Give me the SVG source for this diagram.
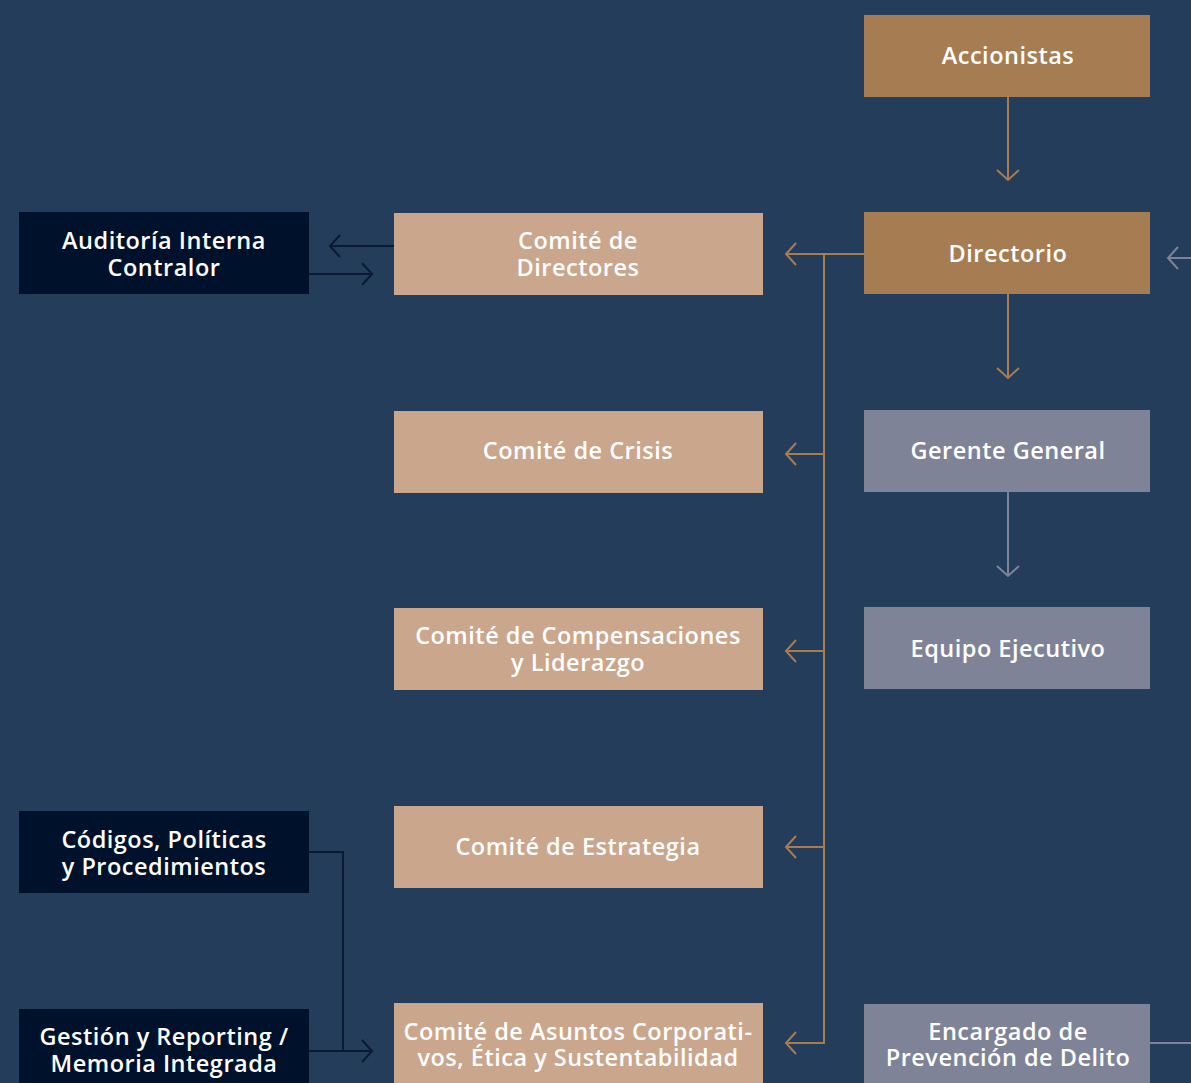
<svg xmlns="http://www.w3.org/2000/svg" width="1191" height="1083" viewBox="0 0 1191 1083">
<style>
.t{font-family:"Open Sans","Noto Sans","Liberation Sans",sans-serif;font-weight:600;font-size:23.5px;fill:#ffffff;text-anchor:middle;letter-spacing:0.5px}
.bz{fill:#a67c52}.tan{fill:#c9a68c}.gr{fill:#7f8398}.dk{fill:#00112b}
.lb{fill:none;stroke:#a67c52;stroke-width:2}
.ld{fill:none;stroke:#0b1a33;stroke-width:2}
.lg{fill:none;stroke:#7f8398;stroke-width:2}
</style>
<defs>
<marker id="ab" markerWidth="14" markerHeight="24" refX="11" refY="12" orient="auto" markerUnits="userSpaceOnUse"><path d="M1,1 L11,12 L1,23" fill="none" stroke="#a67c52" stroke-width="2"/></marker>
<marker id="ad" markerWidth="14" markerHeight="24" refX="11" refY="12" orient="auto" markerUnits="userSpaceOnUse"><path d="M1,1 L11,12 L1,23" fill="none" stroke="#0b1a33" stroke-width="2"/></marker>
<marker id="ag" markerWidth="14" markerHeight="24" refX="11" refY="12" orient="auto" markerUnits="userSpaceOnUse"><path d="M1,1 L11,12 L1,23" fill="none" stroke="#7f8398" stroke-width="2"/></marker>
</defs>
<rect width="1191" height="1083" fill="#243d5a"/>
<g id="connectors">
<path class="lb" d="M1008,97 V180" marker-end="url(#ab)"/>
<path class="lb" d="M1008,294 V378" marker-end="url(#ab)"/>
<path class="lg" d="M1008,492 V576" marker-end="url(#ag)"/>
<path class="lb" d="M864,254 H786" marker-end="url(#ab)"/>
<path class="lb" d="M824,254 V1043 H786" marker-end="url(#ab)"/>
<path class="lb" d="M824,454 H786" marker-end="url(#ab)"/>
<path class="lb" d="M824,651 H786" marker-end="url(#ab)"/>
<path class="lb" d="M824,847 H786" marker-end="url(#ab)"/>
<path class="ld" d="M394,246 H330" marker-end="url(#ad)"/>
<path class="ld" d="M309,274 H372" marker-end="url(#ad)"/>
<path class="ld" d="M309,852 H343 V1051"/>
<path class="ld" d="M309,1051 H372" marker-end="url(#ad)"/>
<path class="lg" d="M1150,1043 H1200"/>
<path class="lg" d="M1200,258 H1168" marker-end="url(#ag)"/>
</g>
<g id="accionistas"><rect class="bz" x="864" y="15" width="286" height="82"/><text class="t" x="1008" y="64">Accionistas</text></g>
<g id="directorio"><rect class="bz" x="864" y="212" width="286" height="82"/><text class="t" x="1008" y="262">Directorio</text></g>
<g id="gerente"><rect class="gr" x="864" y="410" width="286" height="82"/><text class="t" x="1008" y="459">Gerente General</text></g>
<g id="equipo"><rect class="gr" x="864" y="607" width="286" height="82"/><text class="t" x="1008" y="657">Equipo Ejecutivo</text></g>
<g id="encargado"><rect class="gr" x="864" y="1004" width="286" height="90"/><text class="t" x="1008" y="1040">Encargado de</text><text class="t" x="1008" y="1066">Prevención de Delito</text></g>
<g id="comite-directores"><rect class="tan" x="394" y="213" width="369" height="82"/><text class="t" x="578" y="249">Comité de</text><text class="t" x="578" y="276">Directores</text></g>
<g id="comite-crisis"><rect class="tan" x="394" y="411" width="369" height="82"/><text class="t" x="578" y="459">Comité de Crisis</text></g>
<g id="comite-compensaciones"><rect class="tan" x="394" y="608" width="369" height="82"/><text class="t" x="578" y="644">Comité de Compensaciones</text><text class="t" x="578" y="671">y Liderazgo</text></g>
<g id="comite-estrategia"><rect class="tan" x="394" y="806" width="369" height="82"/><text class="t" x="578" y="855">Comité de Estrategia</text></g>
<g id="comite-asuntos"><rect class="tan" x="394" y="1003" width="369" height="90"/><text class="t" x="578" y="1040">Comité de Asuntos Corporati-</text><text class="t" x="578" y="1066">vos, Ética y Sustentabilidad</text></g>
<g id="auditoria"><rect class="dk" x="19" y="212" width="290" height="82"/><text class="t" x="164" y="249">Auditoría Interna</text><text class="t" x="164" y="276">Contralor</text></g>
<g id="codigos"><rect class="dk" x="19" y="811" width="290" height="82"/><text class="t" x="164" y="848">Códigos, Políticas</text><text class="t" x="164" y="875">y Procedimientos</text></g>
<g id="gestion"><rect class="dk" x="19" y="1009" width="290" height="90"/><text class="t" x="164" y="1045">Gestión y Reporting /</text><text class="t" x="164" y="1072">Memoria Integrada</text></g>
</svg>
